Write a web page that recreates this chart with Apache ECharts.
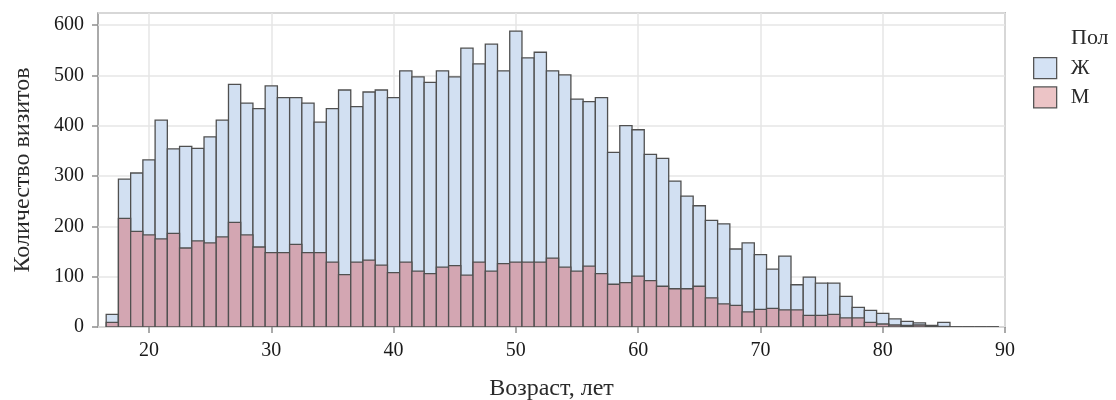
<!DOCTYPE html>
<html><head><meta charset="utf-8">
<script src="https://cdn.jsdelivr.net/npm/echarts@6/dist/echarts.min.js"></script>
<style>html,body{margin:0;padding:0;background:#fff}#c{width:1116px;height:400px}</style>
</head><body><div id="c"></div>
<script>
const ages = [17,18,19,20,21,22,23,24,25,26,27,28,29,30,31,32,33,34,35,36,37,38,39,40,41,42,43,44,45,46,47,48,49,50,51,52,53,54,55,56,57,58,59,60,61,62,63,64,65,66,67,68,69,70,71,72,73,74,75,76,77,78,79,80,81,82,83,84,85,86,87,88,89];
const femaleCounts = [25,294,306,332,411,354,359,355,378,411,482,445,434,479,456,456,445,407,434,471,438,467,471,456,509,497,486,509,497,554,523,562,509,588,535,546,509,501,453,448,456,347,400,392,343,335,290,260,241,212,205,155,167,144,115,141,84,99,87,87,61,39,33,27,16,11,8,3,9,0,0,0,0];
const maleCounts = [9,216,190,183,175,186,157,171,167,179,208,183,159,148,148,164,148,148,129,104,129,133,123,108,129,111,106,119,122,103,129,111,126,129,129,129,137,119,111,121,106,85,88,101,92,81,76,76,81,58,46,43,30,35,37,34,34,23,23,25,18,18,9,6,4,3,4,2,1,0,0,0,0];
const xTicks = [20,30,40,50,60,70,80,90];
const seriesNames = ['Ж','М'];
const barFills = ['#d2e0f2','#d3a6b2'];
const legendFills = ['#d4e2f4','#ecc4c6'];

const FONT = '"Liberation Serif", "DejaVu Serif", serif';
const chart = echarts.init(document.getElementById('c'), null, {renderer:'canvas'});

function render(fill){
  return function(params, api){
    const x = api.value(0), h = api.value(1);
    const p1 = api.coord([x - 0.5, h]);
    const p2 = api.coord([x + 0.5, 0]);
    return {
      type:'rect',
      shape:{x:p1[0], y:p1[1], width:p2[0]-p1[0], height:p2[1]-p1[1]},
      style:{fill:fill, stroke:'#505050', lineWidth:1.3}
    };
  };
}

const option = {
  animation:false,
  textStyle:{fontFamily:FONT},
  grid:{left:98, right:111, top:13, bottom:73, show:true, borderColor:'#8f8f8f', borderWidth:1.5,
        containLabel:false, outerBoundsMode:'none'},
  xAxis:{
    type:'value', min:15.83, max:90,
    name:'Возраст, лет', nameLocation:'middle', nameGap:50,
    nameTextStyle:{fontFamily:FONT, fontSize:24, color:'#2a2a2a'},
    axisLine:{show:false},
    axisTick:{show:true, length:6, lineStyle:{color:'#8f8f8f', width:1.5}, customValues:xTicks},
    axisLabel:{fontFamily:FONT, fontSize:20, color:'#1a1a1a', margin:14, customValues:xTicks},
    splitLine:{show:true, lineStyle:{color:'#e6e6e6', width:1.5}}
  },
  yAxis:{
    type:'value', min:0, max:624, interval:100,
    name:'Количество визитов', nameLocation:'middle', nameGap:63, nameRotate:90,
    nameTextStyle:{fontFamily:FONT, fontSize:24, color:'#2a2a2a'},
    axisLine:{show:false},
    axisTick:{show:true, length:6, lineStyle:{color:'#8f8f8f', width:1.5}},
    axisLabel:{fontFamily:FONT, fontSize:20, color:'#1a1a1a', margin:14, showMaxLabel:false},
    splitLine:{show:true, lineStyle:{color:'#e6e6e6', width:1.5}}
  },
  legend:{
    orient:'vertical', left:1033, top:57, padding:0,
    itemWidth:23, itemHeight:21, itemGap:7,
    icon:'rect',
    textStyle:{fontFamily:FONT, fontSize:21, color:'#2a2a2a', padding:[0,0,0,9]},
    data: seriesNames.map((n,i)=>({name:n, itemStyle:{color:legendFills[i], borderColor:'#555', borderWidth:1.3}}))
  },
  graphic:[{type:'text', left:1071, top:27, style:{text:'Пол', font:'22px ' + FONT, fill:'#2a2a2a'}}],
  series:[
    {name:seriesNames[0], type:'custom', renderItem:render(barFills[0]), itemStyle:{color:legendFills[0]},
      encode:{x:0,y:1}, clip:true, data: ages.map((a,i)=>[a, femaleCounts[i]])},
    {name:seriesNames[1], type:'custom', renderItem:render(barFills[1]), itemStyle:{color:legendFills[1]},
      encode:{x:0,y:1}, clip:true, data: ages.map((a,i)=>[a, maleCounts[i]])}
  ]
};
chart.setOption(option);
</script></body></html>
